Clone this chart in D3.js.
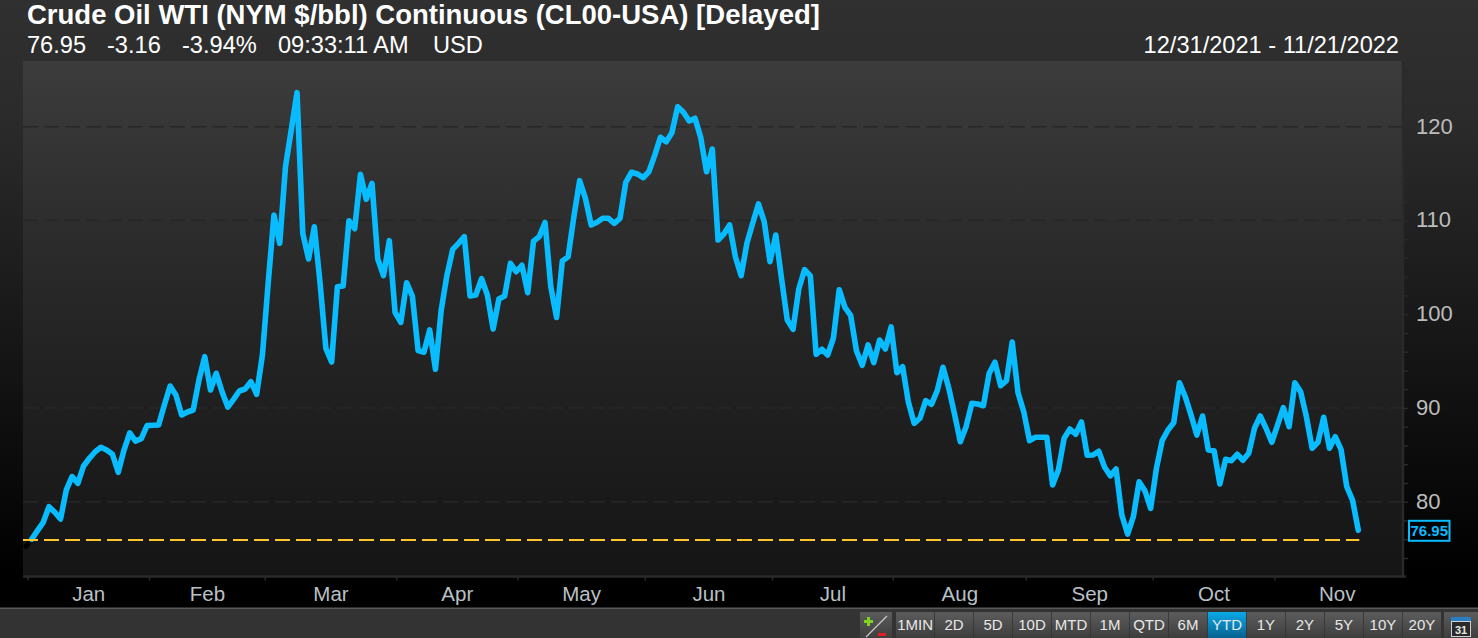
<!DOCTYPE html>
<html><head><meta charset="utf-8">
<script src="https://cdn.jsdelivr.net/npm/d3@7/dist/d3.min.js"></script>
<style>
html,body{margin:0;padding:0;background:#000;overflow:hidden}
svg{display:block}
text{font-family:"Liberation Sans",Arial,sans-serif}
</style></head><body>
<div id="chart"></div>
<script>
const titleText = "Crude Oil WTI (NYM $/bbl) Continuous (CL00-USA) [Delayed]";
const quoteFields = ["76.95","-3.16","-3.94%","09:33:11 AM","USD"];
const dateRange = "12/31/2021 - 11/21/2022";
const lastValue = 76.95;
const previousClose = 75.21;
const referenceLevel = 75.95;
const prices = [
75.99,76.91,77.80,79.47,78.87,78.15,81.25,82.67,81.96,83.81,84.63,85.33,85.80,85.51,85.06,83.14,85.51,87.33,86.47,86.72,
88.11,88.15,88.18,90.31,92.34,91.38,89.25,89.57,89.78,92.98,95.47,91.91,93.70,91.73,90.10,90.92,91.81,92.02,92.80,91.46,
95.65,103.30,110.58,107.56,115.73,119.65,123.63,108.63,105.89,109.33,103.30,96.36,94.90,102.93,103.01,109.97,109.12,114.92,112.26,113.96,
105.89,104.11,107.84,100.20,99.14,103.36,101.94,96.11,95.94,98.32,94.12,100.45,104.18,106.92,107.56,108.27,101.94,102.05,103.79,102.05,
98.42,101.62,101.94,105.43,104.53,105.22,102.29,107.78,108.27,109.78,102.93,99.65,105.68,106.13,110.40,114.24,112.36,109.52,109.80,110.23,
110.23,109.70,110.23,114.07,115.14,114.96,114.56,115.20,116.91,118.87,118.40,119.36,122.13,121.54,120.61,120.90,118.83,115.20,117.62,107.92,
108.56,109.52,106.13,104.11,107.56,109.70,111.76,109.87,105.60,108.45,103.83,99.38,98.39,102.72,104.75,104.08,95.72,96.26,95.65,97.46,
102.61,100.72,99.84,96.08,94.55,96.72,94.83,97.25,96.29,98.64,93.76,94.40,90.60,88.36,88.90,90.77,90.39,91.84,94.34,92.10,
89.35,86.40,88.00,90.50,90.42,90.24,93.70,94.87,92.37,92.91,97.04,91.63,89.60,86.51,86.87,86.87,86.87,81.78,83.38,86.76,
87.75,87.19,88.50,84.96,84.98,85.38,83.70,82.76,83.49,78.58,76.55,78.40,82.13,81.17,79.30,83.56,86.51,87.65,88.43,92.69,
91.20,89.25,87.11,89.14,85.51,85.44,81.89,84.52,84.37,85.06,84.42,85.16,87.83,89.14,87.83,86.34,88.18,90.03,88.00,92.69,
91.73,89.07,85.70,86.34,89.00,85.70,86.93,85.59,81.60,80.18,76.95];
const monthNames = ["Jan","Feb","Mar","Apr","May","Jun","Jul","Aug","Sep","Oct","Nov"];
const monthTickIndex = [-0.75,20.35,40.4,63.2,84.2,106.3,128.35,149.3,172.35,194.35,215.45];
const yLabelTicks = [80,90,100,110,120];
const yMinorTicks = [72,74,76,78,80,82,84,86,88,90,92,94,96,98,100,102,104,106,108,110,112,114,116,118,120,122,124,126];
const rangeButtons = ["1MIN","2D","5D","10D","MTD","1M","QTD","6M","YTD","1Y","2Y","5Y","10Y","20Y"];
const activeButton = "YTD";

const W = 1478, H = 638;
const plot = {l:23, r:1403, t:61, b:576.5};
const x = d3.scaleLinear().domain([0,230]).range([31.7,1358.3]);
const y = d3.scaleLinear().domain([80,120]).range([501.7,126.7]);

const svg = d3.select("#chart").append("svg").attr("width",W).attr("height",H).attr("viewBox",`0 0 ${W} ${H}`);
const defs = svg.append("defs");
function grad(id, stops){
  const g = defs.append("linearGradient").attr("id",id).attr("x1",0).attr("x2",0).attr("y1",0).attr("y2",1);
  stops.forEach(s=>g.append("stop").attr("offset",s[0]).attr("stop-color",s[1]));
}
grad("page",[[0,"#303030"],[0.2,"#2b2b2b"],[0.6,"#161616"],[1,"#000000"]]);
grad("plotBg",[[0,"#3c3c3c"],[0.45,"#272727"],[1,"#151515"]]);
grad("btn",[[0,"#5c5c5c"],[1,"#3e3e3e"]]);
grad("btnOn",[[0,"#0aa9e8"],[1,"#08618f"]]);

svg.append("rect").attr("width",W).attr("height",H).attr("fill","#000");
svg.append("rect").attr("width",W).attr("height",plot.b).attr("fill","url(#page)");
svg.append("rect").attr("x",plot.l).attr("y",plot.t).attr("width",plot.r-plot.l).attr("height",plot.b-plot.t).attr("fill","url(#plotBg)");

// grid
const grid = svg.append("g");
grid.selectAll("line").data(yLabelTicks).join("line")
  .attr("x1",plot.l).attr("x2",plot.r).attr("y1",d=>y(d)).attr("y2",d=>y(d))
  .attr("stroke","#272727").attr("stroke-width",1.6).attr("stroke-dasharray","15 6");

// right axis
const yAxis = d3.axisRight(y).tickValues(yMinorTicks.filter(d=>y(d)>plot.t&&y(d)<plot.b)).tickSize(5).tickFormat(d=>yLabelTicks.includes(d)?d:"");
const gy = svg.append("g").attr("transform",`translate(${plot.r},0)`).call(yAxis);
gy.select(".domain").attr("d",`M0,${plot.t}V${plot.b}`).attr("stroke","#2a2a2a").attr("stroke-width",2.4);
gy.selectAll(".tick line").attr("stroke","#2a2a2a").attr("stroke-width",1.4);
gy.selectAll(".tick text").attr("fill","#bdbdbd").attr("font-size",22).attr("dy","0.29em").attr("font-family",'"Liberation Sans",Arial,sans-serif').attr("x",13);

// bottom axis
const xAxis = d3.axisBottom(x).tickValues(monthTickIndex).tickSize(4).tickFormat("");
const gx = svg.append("g").attr("transform",`translate(0,${plot.b})`).call(xAxis);
gx.select(".domain").attr("d",`M${plot.l},0H${plot.r+3}`).attr("stroke","#2a2a2a").attr("stroke-width",2.4);
gx.selectAll(".tick line").attr("stroke","#2a2a2a").attr("stroke-width",1.4);
svg.append("g").selectAll("text").data(monthNames).join("text")
  .attr("x",(d,i)=>{const a=x(monthTickIndex[i]);const b=i+1<monthTickIndex.length?x(monthTickIndex[i+1]):plot.r-4;return (a+b)/2+0.5;})
  .attr("y",601).attr("text-anchor","middle").attr("fill","#b9c0c6").attr("font-size",20.5).text(d=>d);

// series
const line = d3.line().x((d,i)=>x(i)).y(d=>y(d)).curve(d3.curveLinear);
svg.append("path").datum([previousClose,prices[0]])
  .attr("d",d3.line().x((d,i)=>x(i-1)).y(d=>y(d))).attr("fill","none").attr("stroke","#000").attr("stroke-width",5).attr("stroke-linecap","round");
svg.append("path").datum(prices).attr("d",line).attr("fill","none").attr("stroke","#08bcff").attr("stroke-width",5.6).attr("stroke-linejoin","round").attr("stroke-linecap","round");
svg.append("line").attr("x1",plot.l).attr("x2",x(prices.length-1)+1).attr("y1",y(referenceLevel)+0.3).attr("y2",y(referenceLevel)+0.3)
  .attr("stroke","#ffc62e").attr("stroke-width",2).attr("stroke-dasharray","15 6");

// last value box
const by = y(lastValue);
svg.append("rect").attr("x",1409).attr("y",by-9.5).attr("width",40.5).attr("height",20).attr("fill","#000").attr("stroke","#08bcff").attr("stroke-width",2);
svg.append("text").attr("x",1429.3).attr("y",by+5.8).attr("text-anchor","middle").attr("fill","#08bcff").attr("font-size",15).attr("font-weight","bold").text(lastValue.toFixed(2));

// header
svg.append("text").attr("x",27).attr("y",23.5).attr("fill","#fff").attr("font-size",27.5).attr("font-weight","bold").text(titleText);
const quoteX = [27,107,182,278,433];
svg.append("g").selectAll("text").data(quoteFields).join("text")
  .attr("x",(d,i)=>quoteX[i]).attr("y",53).attr("fill","#fff").attr("font-size",23.6).text(d=>d);
svg.append("text").attr("x",1399).attr("y",53).attr("text-anchor","end").attr("fill","#fff").attr("font-size",23.6).text(dateRange);

// footer
svg.append("rect").attr("y",608).attr("width",W).attr("height",30).attr("fill","#333");
svg.append("rect").attr("y",607.5).attr("width",W).attr("height",1.5).attr("fill","#5a5a5a");
const bx = d3.scaleBand().domain(rangeButtons).range([896,1441]).paddingInner(0.02);
const bg = svg.append("g").selectAll("g").data(rangeButtons).join("g").attr("transform",d=>`translate(${bx(d)},612)`);
bg.append("rect").attr("width",bx.bandwidth()).attr("height",26).attr("fill",d=>d===activeButton?"url(#btnOn)":"url(#btn)");
bg.append("text").attr("x",bx.bandwidth()/2).attr("y",18).attr("text-anchor","middle").attr("fill","#e8e8e8").attr("font-size",15).text(d=>d);
// +/- button icon
const pm = svg.append("g").attr("transform","translate(860,612)");
pm.append("rect").attr("width",32).attr("height",26).attr("fill","url(#btn)");
pm.append("line").attr("x1",6).attr("y1",25).attr("x2",27).attr("y2",4).attr("stroke","#c8c8c8").attr("stroke-width",1.2);
pm.append("path").attr("d","M7,5h3v3h3v3h-3v3h-3v-3h-3v-3h3z").attr("fill","#7ed321");
pm.append("rect").attr("x",18).attr("y",21).attr("width",8).attr("height",3).attr("fill","#e02020");
// calendar
const cal = svg.append("g").attr("transform","translate(1444,612)");
cal.append("rect").attr("width",34).attr("height",26).attr("fill","url(#btn)");
cal.append("rect").attr("x",7.5).attr("y",9.5).attr("width",19).attr("height",15).attr("fill","#2a2a2a").attr("stroke","#d0d0d0");
cal.append("rect").attr("x",7).attr("y",5).attr("width",20).attr("height",4).attr("fill","#2a7fc4");
cal.append("text").attr("x",17).attr("y",21.5).attr("text-anchor","middle").attr("fill","#e8e8e8").attr("font-size",11).attr("font-weight","bold").text("31");
</script>
</body></html>
